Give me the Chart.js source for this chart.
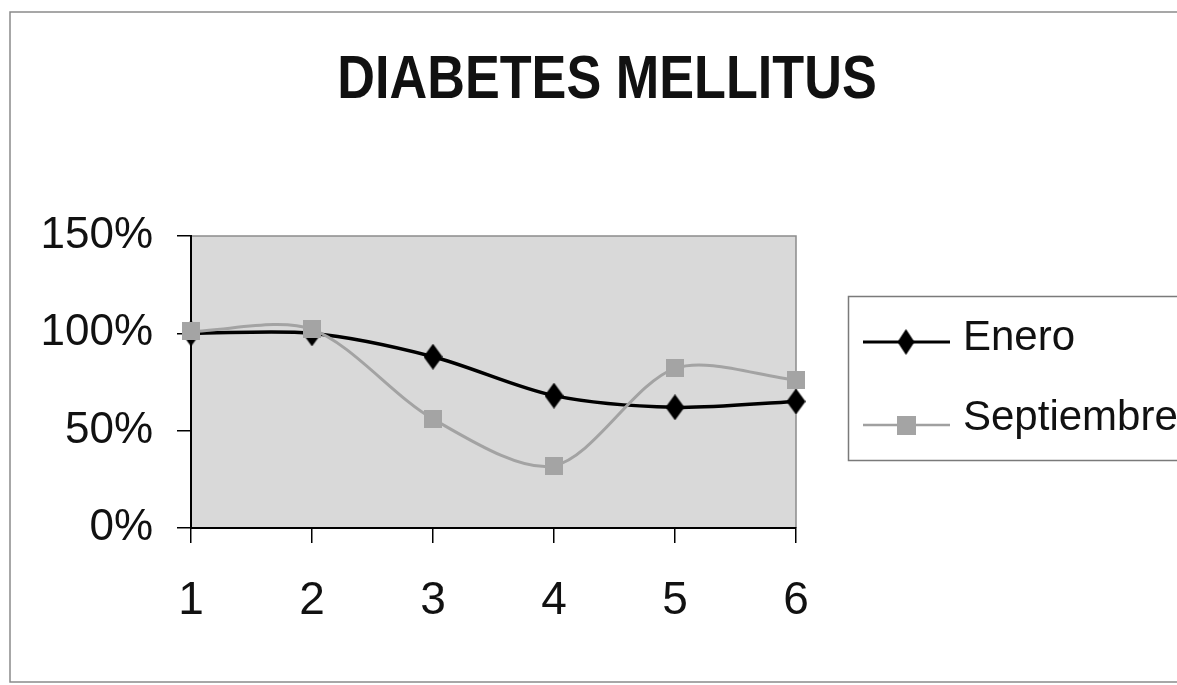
<!DOCTYPE html>
<html><head><meta charset="utf-8">
<script src="https://cdn.jsdelivr.net/npm/chart.js@4/dist/chart.umd.min.js"></script>
<style>html,body{margin:0;padding:0;background:#fff;overflow:hidden}#wrap{position:relative;width:1177px;height:685px}</style>
</head><body><div id="wrap"><canvas id="c" width="1177" height="685"></canvas></div>
<script>
const chartTitle = 'DIABETES MELLITUS';
const categories = ['1', '2', '3', '4', '5', '6'];
const seriesNames = ['Enero', 'Septiembre'];
const eneroValues = [100, 100, 88, 68, 62, 65];
const septiembreValues = [101, 102, 56, 32, 82, 76];
const yTickMin = 0, yTickMax = 150, yTickStep = 50;

const REG = '"Liberation Sans", Arial, sans-serif';

function makeDiamond(w, h, color) {
  const c = document.createElement('canvas'); c.width = w; c.height = h;
  const g = c.getContext('2d'); g.fillStyle = color; g.beginPath();
  g.moveTo(w / 2, 0); g.lineTo(w, h / 2); g.lineTo(w / 2, h); g.lineTo(0, h / 2); g.closePath(); g.fill();
  return c;
}
function makeSquare(s, color) {
  const c = document.createElement('canvas'); c.width = s; c.height = s;
  const g = c.getContext('2d'); g.fillStyle = color; g.fillRect(0, 0, s, s);
  return c;
}
const diamond = makeDiamond(19, 26, '#000');
const square = makeSquare(18, '#a4a4a4');
const legendDiamond = makeDiamond(17, 26, '#000');
const legendSquare = makeSquare(19, '#a4a4a4');

const decor = {
  id: 'decor',
  beforeDraw(chart) {
    const ctx = chart.ctx, a = chart.chartArea;
    ctx.save();
    ctx.strokeStyle = '#8a8a8a'; ctx.lineWidth = 1.5;
    ctx.beginPath();
    ctx.moveTo(1177, 12); ctx.lineTo(10, 12); ctx.lineTo(10, 682); ctx.lineTo(1177, 682);
    ctx.stroke();
    ctx.fillStyle = '#d9d9d9';
    ctx.fillRect(a.left, a.top, a.right - a.left, a.bottom - a.top);
    ctx.strokeStyle = '#8c8c8c'; ctx.lineWidth = 1.5;
    ctx.beginPath(); ctx.moveTo(a.left, a.top); ctx.lineTo(a.right, a.top); ctx.lineTo(a.right, a.bottom); ctx.stroke();
    // title (condensed like Arial Narrow)
    ctx.translate(607, 81);
    ctx.scale(0.87, 1.02);
    ctx.fillStyle = '#111';
    ctx.font = 'bold 60px ' + REG;
    ctx.textAlign = 'center'; ctx.textBaseline = 'middle';
    ctx.fillText(chartTitle, 0, 0);
    ctx.restore();
  },
  afterDraw(chart) {
    const ctx = chart.ctx;
    ctx.save();
    ctx.strokeStyle = '#7a7a7a'; ctx.lineWidth = 1.5;
    ctx.strokeRect(848.5, 296.5, 400, 164);
    const rows = [
      { y: 342, color: '#000', w: 3, mark: legendDiamond, ty: 338 },
      { y: 425, color: '#a0a0a0', w: 2.5, mark: legendSquare, ty: 418 }
    ];
    rows.forEach((r, i) => {
      ctx.strokeStyle = r.color; ctx.lineWidth = r.w;
      ctx.beginPath(); ctx.moveTo(863, r.y); ctx.lineTo(950, r.y); ctx.stroke();
      ctx.drawImage(r.mark, 906 - r.mark.width / 2, r.y - r.mark.height / 2);
      ctx.fillStyle = '#111'; ctx.font = '42px ' + REG;
      ctx.textAlign = 'left'; ctx.textBaseline = 'middle';
      ctx.fillText(chart.data.datasets[i].label, 963, r.ty);
    });
    ctx.restore();
  }
};

new Chart(document.getElementById('c'), {
  type: 'line',
  data: {
    labels: categories,
    datasets: [
      { label: seriesNames[0], data: eneroValues, borderColor: '#000', backgroundColor: '#000', borderWidth: 3.5,
        tension: 0.3, pointStyle: diamond, pointRadius: 10, clip: false, order: 1 },
      { label: seriesNames[1], data: septiembreValues, borderColor: '#a3a3a3', backgroundColor: '#a3a3a3', borderWidth: 3,
        tension: 0.3, pointStyle: square, pointRadius: 10, clip: false, order: 0 }
    ]
  },
  options: {
    responsive: false, animation: false, devicePixelRatio: 1,
    layout: { padding: { top: 236, left: 0, right: 381, bottom: 0 } },
    plugins: { legend: { display: false }, title: { display: false }, tooltip: { enabled: false } },
    scales: {
      x: {
        offset: false,
        afterFit(s) { s.height = 157; },
        border: { color: '#000', width: 2 },
        grid: { drawOnChartArea: false, drawTicks: true, tickLength: 15, color: '#000', lineWidth: 1.5 },
        ticks: { color: '#111', font: { family: REG, size: 46 }, padding: 31, maxRotation: 0 }
      },
      y: {
        min: yTickMin, max: yTickMax,
        afterFit(s) { s.width = 191; },
        border: { color: '#000', width: 2 },
        grid: { drawOnChartArea: false, drawTicks: true, tickLength: 14, color: '#000', lineWidth: 1.5 },
        ticks: { stepSize: yTickStep, color: '#111', font: { family: REG, size: 44 }, padding: 24,
          callback: v => v + '%' }
      }
    }
  },
  plugins: [decor]
});
</script></body></html>
